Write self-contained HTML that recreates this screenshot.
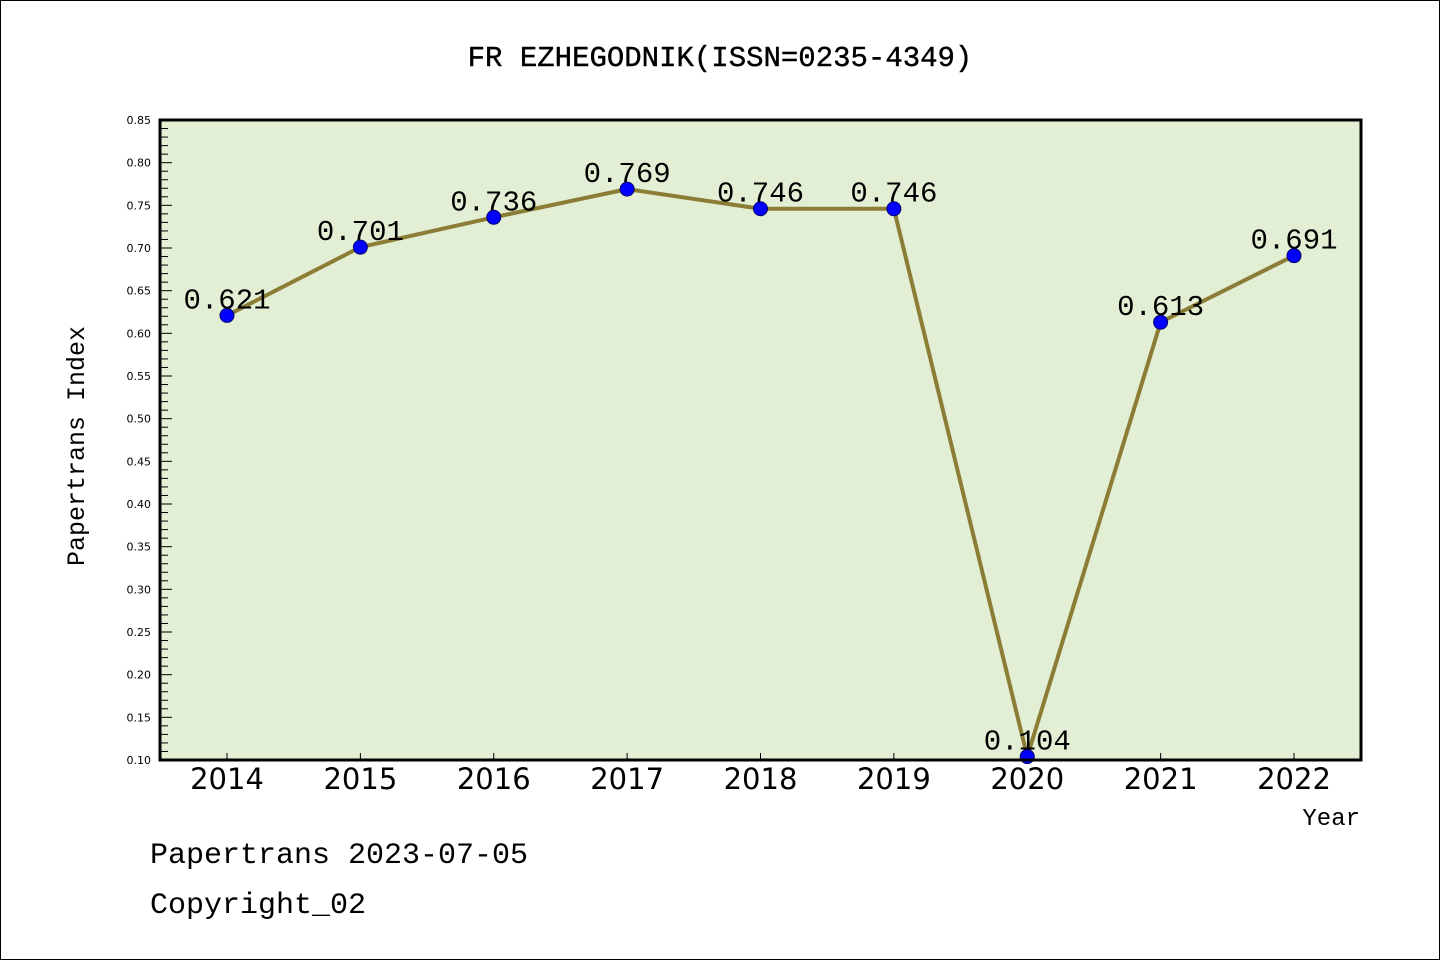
<!DOCTYPE html>
<html><head><meta charset="utf-8"><style>
body{margin:0;background:#fff}
svg{display:block}
.m{font-family:"Liberation Mono","WenQuanYi Zen Hei",monospace}
.s{font-family:"DejaVu Sans","Liberation Sans",sans-serif}
</style></head><body>
<svg id="chart" width="1440" height="960" xmlns="http://www.w3.org/2000/svg">
<rect x="0.5" y="0.5" width="1439" height="959" fill="#fff" stroke="#000"/>
<text class="m" x="720" y="66" font-size="29" text-anchor="middle" stroke="#000" stroke-width="0.4">FR EZHEGODNIK(ISSN=0235-4349)</text>
<rect x="160" y="120" width="1201" height="640" fill="#e2efd5"/>
<g id="yaxis"></g>
<g id="xaxis"></g>
<g id="series"></g>
<rect x="160" y="120" width="1201" height="640" fill="none" stroke="#000" stroke-width="3"/>
<text class="m" transform="translate(84,446) rotate(-90)" font-size="25" text-anchor="middle">Papertrans Index</text>
<text class="m" x="1360" y="825" font-size="24" text-anchor="end">Year</text>
<text class="m" x="150" y="863" font-size="30">Papertrans 2023-07-05</text>
<text class="m" x="150" y="913" font-size="30">Copyright_02</text>
</svg>
<script>
const years=["2014","2015","2016","2017","2018","2019","2020","2021","2022"];
const values=[0.621,0.701,0.736,0.769,0.746,0.746,0.104,0.613,0.691];
const valueLabels=["0.621","0.701","0.736","0.769","0.746","0.746","0.104","0.613","0.691"];
const yTicks=["0.10","0.15","0.20","0.25","0.30","0.35","0.40","0.45","0.50","0.55","0.60","0.65","0.70","0.75","0.80","0.85"];
const NS="http://www.w3.org/2000/svg";
const yMin=0.10,yMax=0.85,plotTop=120,plotBot=760;
const y=v=>plotBot-(v-yMin)/(yMax-yMin)*(plotBot-plotTop);
const x=i=>227+i*(1294-227)/(years.length-1);
function mk(t,a,p){const e=document.createElementNS(NS,t);for(const k in a)e.setAttribute(k,a[k]);p.appendChild(e);return e;}
const ya=document.getElementById('yaxis');
for(let k=0;k<=75;k++){const v=yMin+k*0.01;const major=k%5===0;
 const l=mk('line',{x1:160,x2:160+(major?12:8),y1:y(v),y2:y(v),stroke:'#000','stroke-width':1},ya);
 
 }
yTicks.forEach(t=>{const e=mk('text',{x:151,y:y(parseFloat(t))+4,'font-size':11,'text-anchor':'end',class:'s'},ya);e.textContent=t;
 
 });
const xa=document.getElementById('xaxis');
years.forEach((yr,i)=>{const l=mk('line',{x1:x(i),x2:x(i),y1:760,y2:753,stroke:'#000','stroke-width':1},xa);
 
 
 const e=mk('text',{x:x(i),y:789,'font-size':29,'text-anchor':'middle',class:'s'},xa);e.textContent=yr;
 
 });
const sg=document.getElementById('series');
const pl=mk('polyline',{points:values.map((v,i)=>x(i)+','+y(v)).join(' '),fill:'none',stroke:'#8b7d35','stroke-width':4,'stroke-linejoin':'round'},sg);


values.forEach((v,i)=>{const c=mk('circle',{cx:x(i),cy:y(v),r:7,fill:'#0000ff',stroke:'#00006a','stroke-width':1},sg);
 
 
 const t=mk('text',{x:x(i),y:y(v)-7,'font-size':29,'text-anchor':'middle',class:'m'},sg);t.textContent=valueLabels[i];
 
 });
</script>
</body></html>
